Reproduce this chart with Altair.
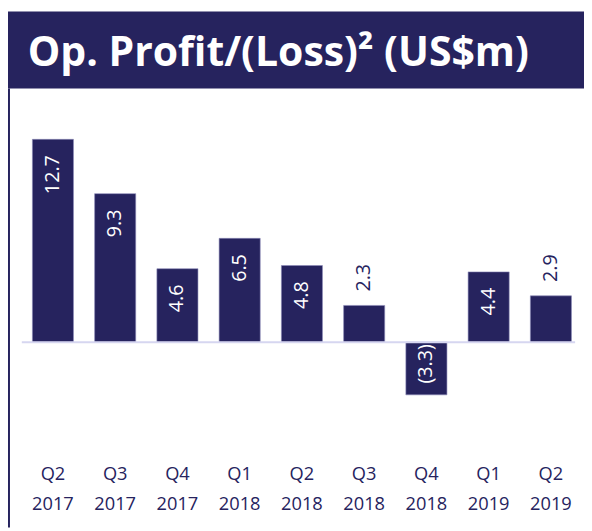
import altair as alt
import pandas as pd

quarters = ["Q2", "Q3", "Q4", "Q1", "Q2", "Q3", "Q4", "Q1", "Q2"]
years = ["2017", "2017", "2017", "2018", "2018", "2018", "2018", "2019", "2019"]
values = [12.7, 9.3, 4.6, 6.5, 4.8, 2.3, -3.3, 4.4, 2.9]
labels = ["12.7", "9.3", "4.6", "6.5", "4.8", "2.3", "(3.3)", "4.4", "2.9"]
placement = ["in", "in", "in", "in", "in", "out", "neg", "in", "out"]
title_text = "Op. Profit/(Loss)\u00b2 (US$m)"

NAVY = "#26235e"
FONT = "Open Sans"

df = pd.DataFrame({
    "key": [f"{q} {y}" for q, y in zip(quarters, years)],
    "quarter": quarters,
    "year": years,
    "value": values,
    "label": labels,
    "place": placement,
})

W, H = 584, 523

xenc = alt.X("key:N", sort=None, axis=None,
             scale=alt.Scale(range=[14, 582], paddingInner=0.34, paddingOuter=0.17))
yscale = alt.Scale(domain=[-11.6, 20.7], nice=False, zero=False)

base = alt.Chart(df).encode(x=xenc)

bars = base.mark_bar(color=NAVY, stroke="#8c8ab8", strokeWidth=0.6).encode(
    y=alt.Y("value:Q", scale=yscale, axis=None),
    y2=alt.datum(0),
)

zero_rule = alt.Chart(df).mark_rule(color="#d6d6f0", strokeWidth=2).encode(
    y=alt.Y("z:Q", scale=yscale, axis=None),
    x=alt.value(14), x2=alt.value(575),
).transform_calculate(z="0").transform_filter("datum.key == 'Q2 2017'")

lab_base = base.transform_calculate(ypos="max(datum.value, 0)").encode(
    y=alt.Y("ypos:Q", scale=yscale, axis=None), text="label:N")

lab_in = lab_base.transform_filter("datum.place == 'in'").mark_text(
    angle=270, align="right", baseline="middle", dx=-16, color="white",
    font=FONT, fontSize=20)
lab_neg = lab_base.transform_filter("datum.place == 'neg'").mark_text(
    angle=270, align="right", baseline="middle", dx=-2, color="white",
    font=FONT, fontSize=20)
lab_out = lab_base.transform_filter("datum.place == 'out'").mark_text(
    angle=270, align="left", baseline="middle", dx=14, color=NAVY,
    font=FONT, fontSize=20)

q_text = base.mark_text(font=FONT, fontSize=18.5, color=NAVY, baseline="middle").encode(
    y=alt.value(469), text="quarter:N")
y_text = base.mark_text(font=FONT, fontSize=18.5, color=NAVY, baseline="middle").encode(
    y=alt.value(499), text="year:N")

banner = alt.Chart(df).mark_rect(color=NAVY).encode(
    x=alt.value(0), x2=alt.value(W), y=alt.value(0), y2=alt.value(78)
).transform_filter("datum.key == 'Q2 2017'")

left_border = alt.Chart(df).mark_rule(color=NAVY, strokeWidth=2).encode(
    x=alt.value(1), y=alt.value(78), y2=alt.value(H)
).transform_filter("datum.key == 'Q2 2017'")

title = alt.Chart(df).mark_text(
    font=FONT, fontSize=41.5, fontWeight="bold", color="white",
    align="left", baseline="alphabetic"
).encode(
    x=alt.value(20), y=alt.value(55), text=alt.value(title_text)
).transform_filter("datum.key == 'Q2 2017'")

chart = alt.layer(
    banner, left_border, title, bars, zero_rule, lab_in, lab_neg, lab_out, q_text, y_text
).properties(
    width=W, height=H, autosize=alt.AutoSizeParams(type="none"), padding=0,
    background="white"
).configure_view(stroke=None)

chart.save("out.html", embed_options={"renderer": "svg", "actions": False})
